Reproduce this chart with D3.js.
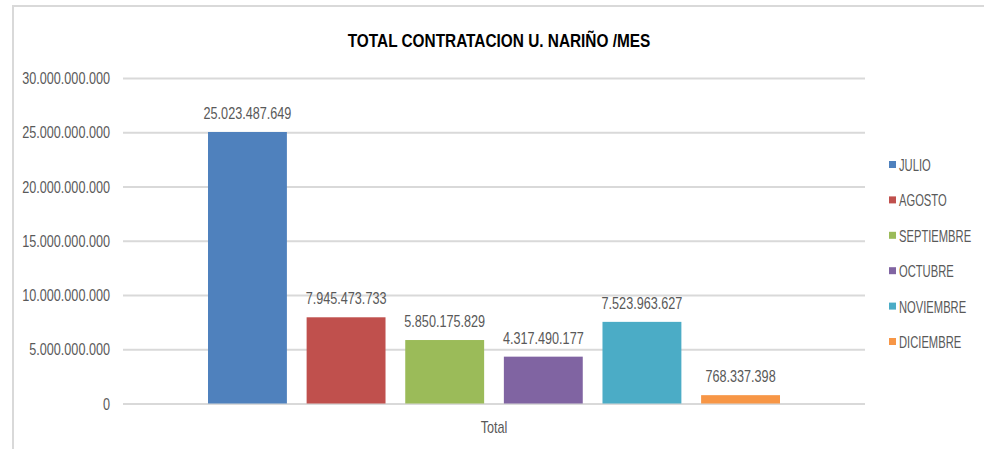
<!DOCTYPE html>
<meta charset="utf-8">
<style>
body {
  margin: 0;
  background: #fff;
  font-family: "Liberation Sans", Arial, sans-serif;
}
.grid line {
  stroke: #d9d9d9;
  stroke-width: 2px;
}
.tick text, .lbl, .legend text, .cat {
  fill: #595959;
}
</style>
<body>
<script src="https://d3js.org/d3.v7.min.js"></script>
<script>
var categories = ["Total"];
var months = ["JULIO", "AGOSTO", "SEPTIEMBRE", "OCTUBRE", "NOVIEMBRE", "DICIEMBRE"];
var values = [25023487649, 7945473733, 5850175829, 4317490177, 7523963627, 768337398];
var colors = ["#4f81bd", "#c0504d", "#9bbb59", "#8064a2", "#4bacc6", "#f79646"];
var yTicks = [0, 5e9, 10e9, 15e9, 20e9, 25e9, 30e9];

var width = 984,
    height = 449,
    fs = 16,
    sx = 0.79; // the original font is a narrow one

// numbers with dots as thousands separator
var loc = d3.formatLocale({decimal: ",", thousands: ".", grouping: [3], currency: ["$", ""]});
var fmt = loc.format(",d");

// squeeze a text horizontally around its own x,y
function narrow(sel, k) {
  sel.each(function() {
    var t = d3.select(this),
        tx = +t.attr("x") || 0,
        ty = +t.attr("y") || 0;
    t.attr("x", 0).attr("y", 0)
      .attr("transform", "translate(" + tx + "," + ty + ") scale(" + k + ",1)");
  });
}

var svg = d3.select("body")
  .append("svg")
  .attr("width", width)
  .attr("height", height);

// frame
svg.append("line")
  .attr("x1", 12).attr("y1", 6).attr("x2", width).attr("y2", 6)
  .attr("stroke", "#d9d9d9").attr("stroke-width", 2);
svg.append("line")
  .attr("x1", 13).attr("y1", 5).attr("x2", 13).attr("y2", height)
  .attr("stroke", "#d9d9d9").attr("stroke-width", 2);

svg.append("text")
  .attr("x", 499)
  .attr("y", 47)
  .attr("text-anchor", "middle")
  .attr("font-size", 19)
  .attr("font-weight", "bold")
  .attr("fill", "#000")
  .text("TOTAL CONTRATACION U. NARIÑO /MES")
  .call(narrow, 0.81);

var y = d3.scaleLinear()
  .domain([0, 30e9])
  .range([403.5, 78]);

var x0 = d3.scaleBand()
  .domain(categories)
  .range([123, 865])
  .paddingOuter(0.1486);

var x1 = d3.scaleBand()
  .domain(months)
  .range([0, x0.bandwidth()])
  .paddingInner(0.2);

var grid = svg.append("g")
  .attr("class", "grid")
  .attr("transform", "translate(123,0)")
  .call(d3.axisLeft(y).tickValues(yTicks).tickSize(-742).tickFormat(fmt).tickPadding(13));
grid.select(".domain").remove();
grid.selectAll(".tick text")
  .attr("font-size", fs)
  .attr("font-family", "inherit")
  .attr("dy", "0.35em")
  .attr("transform", "scale(" + sx + ",1)")
  .attr("x", -13 / sx);

var g = svg.append("g")
  .selectAll("g")
  .data(categories)
  .join("g")
  .attr("transform", function(d) { return "translate(" + x0(d) + ",0)"; });

g.selectAll("rect")
  .data(months)
  .join("rect")
  .attr("x", function(d) { return x1(d); })
  .attr("y", function(d, i) { return y(values[i]); })
  .attr("width", x1.bandwidth())
  .attr("height", function(d, i) { return y(0) - y(values[i]); })
  .attr("fill", function(d, i) { return colors[i]; });

g.selectAll(".lbl")
  .data(months)
  .join("text")
  .attr("class", "lbl")
  .attr("x", function(d) { return x1(d) + x1.bandwidth() / 2; })
  .attr("y", function(d, i) { return y(values[i]) - 13; })
  .attr("text-anchor", "middle")
  .attr("font-size", fs)
  .text(function(d, i) { return fmt(values[i]); })
  .call(narrow, sx);

svg.append("text")
  .attr("class", "cat")
  .attr("x", x0("Total") + x0.bandwidth() / 2)
  .attr("y", 433)
  .attr("text-anchor", "middle")
  .attr("font-size", fs)
  .text(categories[0])
  .call(narrow, sx);

// legend
var leg = svg.append("g")
  .attr("class", "legend")
  .selectAll("g")
  .data(months)
  .join("g")
  .attr("transform", function(d, i) { return "translate(889," + (165 + i * 35.4) + ")"; });

leg.append("rect")
  .attr("x", 0)
  .attr("y", -4)
  .attr("width", 7)
  .attr("height", 7)
  .attr("fill", function(d, i) { return colors[i]; });

leg.append("text")
  .attr("x", 10)
  .attr("y", 6)
  .attr("font-size", fs)
  .text(function(d) { return d; })
  .call(narrow, 0.7);
</script>
</body>
